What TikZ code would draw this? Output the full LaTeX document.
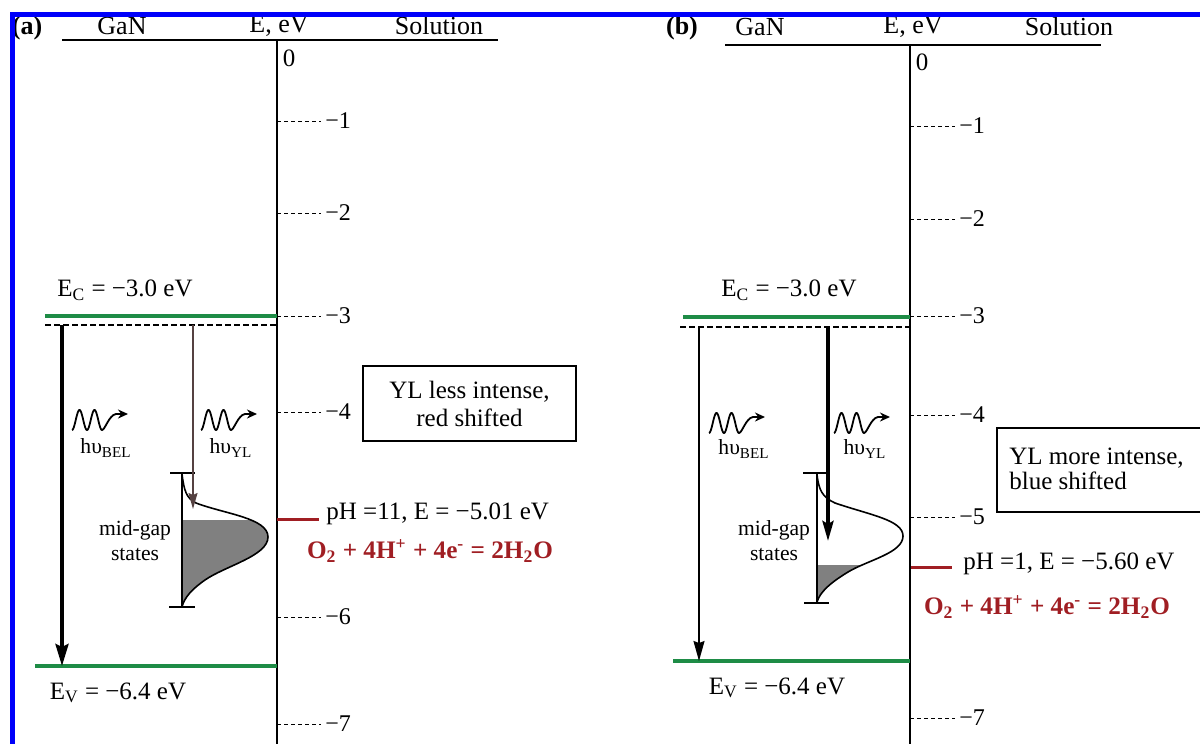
\documentclass[tikz,border=0pt]{standalone}
\usepackage{fontspec}
\setmainfont{Liberation Serif}
\usetikzlibrary{arrows.meta}
\definecolor{bandgreen}{RGB}{30,140,70}
\definecolor{redox}{RGB}{160,30,35}
\definecolor{frameblue}{RGB}{0,0,250}
\definecolor{ylbrown}{RGB}{85,65,65}
\definecolor{fillgray}{RGB}{128,128,128}
\newcommand\gaussA{(182,474) .. controls (184,490) and (186,498) .. (196,503) .. controls (225,514) and (268,518) .. (268,537) .. controls (268,556) and (225,566) .. (205,580) .. controls (192,589) and (184,598) .. (182,607)}
\newcommand\gaussB{(817,475) .. controls (819,490) and (822,497) .. (835,503) .. controls (870,515) and (903,520) .. (903,536) .. controls (903,553) and (868,560) .. (848,572) .. controls (830,583) and (820,592) .. (817,602)}
\begin{document}
\begin{tikzpicture}[x=0.5pt,y=-0.5pt,
  txt/.style={inner sep=0pt,font=\fontsize{12.5}{14.5}\selectfont},
  hdr/.style={inner sep=0pt,font=\fontsize{13}{15}\selectfont},
  small/.style={inner sep=0pt,font=\fontsize{10.8}{12.5}\selectfont,align=center},
  panel/.style={inner sep=0pt,font=\fontsize{13}{15}\selectfont\bfseries},
  tickl/.style={anchor=west,inner sep=2pt,font=\fontsize{12}{14}\selectfont},
  tickdash/.style={dash pattern=on 2pt off 1.5pt,line width=0.5pt},
  axisline/.style={line width=0.8pt},
  band/.style={bandgreen,line width=1.6pt},
  cdash/.style={dash pattern=on 3pt off 1.5pt,line width=0.6pt},
  thickarr/.style={line width=1.8pt,-{Stealth[length=11pt,width=6.5pt,inset=1.5pt]}},
  thinarr/.style={line width=0.7pt,-{Stealth[length=8pt,width=4.5pt,inset=1pt]}},
  redline/.style={redox,line width=1.5pt},
  eqn/.style={inner sep=0pt,text=redox,font=\fontsize{12.6}{14}\selectfont\bfseries},
  capline/.style={line width=0.7pt},
  curve/.style={line width=0.8pt},
  photon/.pic={\draw[line width=0.9pt,-{Stealth[length=5pt,width=4.5pt]}]
     plot[domain=0:30,samples=61,smooth] (\x,{-10*(1-cos(\x*360/15))})
     .. controls (33,0) and (37,-15) .. (44,-16) -- (56,-16);}
]
\useasboundingbox (0,0) rectangle (1200,744);

% ================= panel (a) =================
\node[panel] (pa) at (27,28) {(a)};
\node[hdr] (gana) at (122,26) {GaN};
\node[hdr] (eeva) at (279,26) {E, eV};
\node[hdr] (sola) at (439,26) {Solution};
\coordinate (atl) at (62,40);
\coordinate (atr) at (498,40);
\coordinate (aax) at (277,40);
\coordinate (aaxb) at (277,744);
\draw[axisline] (atl) -- (atr);
\draw[axisline] (aax) -- (aaxb);
\node[txt] (a0) at (289,58) {0};
\foreach \v/\y in {1/121,2/213,3/316,4/412,6/617,7/724}{
  \coordinate (ac\v) at (277,\y);
  \node[tickl] (at\v) at (321,\y) {−\v};
  \draw[tickdash] (ac\v) -- (at\v.west);
}
% bands
\coordinate (aecl) at (45,316); \coordinate (aecr) at (277,316);
\coordinate (adl) at (45,325); \coordinate (adr) at (277,325);
\coordinate (aevl) at (35,666); \coordinate (aevr) at (277,666);
\draw[band] (aecl) -- (aecr);
\draw[cdash] (adl) -- (adr);
\draw[band] (aevl) -- (aevr);
\node[txt] (aec) at (125,290) {E\textsubscript{C} = −3.0 eV};
\node[txt] (aev) at (118,693) {E\textsubscript{V} = −6.4 eV};
% transitions
\coordinate (abs) at (62,325); \coordinate (abe) at (62,666);
\draw[thickarr] (abs) -- (abe);
\coordinate (ays) at (193,325); \coordinate (aye) at (193,509);
% mid-gap states
\begin{scope}
  \clip (180,520) rectangle (280,612);
  \fill[fillgray] \gaussA -- cycle;
\end{scope}
\draw[curve] \gaussA;
\coordinate (amt) at (182,473); \coordinate (amb) at (182,607);
\draw[capline] (amt) -- (amb);
\draw[capline] (170,473) -- (195,473);
\draw[capline] (169,607) -- (195,607);
\draw[thinarr,ylbrown] (ays) -- (aye);
\node[small] (amid) at (135,541) {mid-gap\\states};
% photons
\pic at (72,430) {photon};
\pic at (201,430) {photon};
\node[small] (ahb) at (106,448) {hυ\textsubscript{BEL}};
\node[small] (ahy) at (231,448) {hυ\textsubscript{YL}};
% solution side
\coordinate (ars) at (277,519); \coordinate (are) at (319,519);
\draw[redline] (ars) -- (are);
\node[txt,anchor=west] (aph) at (326,514) {pH =11, E = −5.01 eV};
\node[eqn] (aeq) at (430,551) {O\textsubscript{2} + 4H\textsuperscript{+} + 4e\textsuperscript{-} = 2H\textsubscript{2}O};
\node[draw,line width=0.7pt,minimum width=106.5pt,minimum height=37.5pt,align=center,
  inner sep=0pt,font=\fontsize{12.5}{14}\selectfont] (abox) at (469.5,403.5) {YL less intense,\\red shifted};

% ================= panel (b) =================
\node[panel] (pb) at (682,28) {(b)};
\node[hdr] (ganb) at (760,27) {GaN};
\node[hdr] (eevb) at (913,27) {E, eV};
\node[hdr] (solb) at (1069,27) {Solution};
\coordinate (btl) at (725,45);
\coordinate (btr) at (1101,45);
\coordinate (bax) at (910,45);
\coordinate (baxb) at (910,744);
\draw[axisline] (btl) -- (btr);
\draw[axisline] (bax) -- (baxb);
\node[txt] (b0) at (922,62) {0};
\foreach \v/\y in {1/126,2/219,3/316,4/415,5/517,7/718}{
  \coordinate (bc\v) at (910,\y);
  \node[tickl] (bt\v) at (955,\y) {−\v};
  \draw[tickdash] (bc\v) -- (bt\v.west);
}
\coordinate (becl) at (683,317); \coordinate (becr) at (910,317);
\coordinate (bdl) at (680,327); \coordinate (bdr) at (910,327);
\coordinate (bevl) at (673,661); \coordinate (bevr) at (910,661);
\draw[band] (becl) -- (becr);
\draw[cdash] (bdl) -- (bdr);
\draw[band] (bevl) -- (bevr);
\node[txt] (bec) at (789,290) {E\textsubscript{C} = −3.0 eV};
\node[txt] (bev) at (777,688) {E\textsubscript{V} = −6.4 eV};
\coordinate (bbs) at (699,327); \coordinate (bbe) at (699,661);
\draw[line width=0.8pt,-{Stealth[length=10pt,width=5.5pt,inset=1pt]}] (bbs) -- (bbe);
\begin{scope}
  \clip (815,565) rectangle (910,608);
  \fill[fillgray] \gaussB -- cycle;
\end{scope}
\draw[curve] \gaussB;
\coordinate (bmt) at (817,473); \coordinate (bmb) at (817,603);
\draw[capline] (bmt) -- (bmb);
\draw[capline] (803,473) -- (828,473);
\draw[capline] (804,603) -- (829,603);
\coordinate (bys) at (828,327); \coordinate (bye) at (828,541);
\draw[line width=1.8pt,-{Stealth[length=10pt,width=5.5pt,inset=1.5pt]}] (bys) -- (bye);
\node[small] (bmid) at (774,541) {mid-gap\\states};
\pic at (709,433) {photon};
\pic at (834,433) {photon};
\node[small] (bhb) at (744,449) {hυ\textsubscript{BEL}};
\node[small] (bhy) at (865,449) {hυ\textsubscript{YL}};
\coordinate (brs) at (911,567); \coordinate (bre) at (952,567);
\draw[redline] (brs) -- (bre);
\node[txt,anchor=west] (bph) at (963,564) {pH =1, E = −5.60 eV};
\node[eqn] (beq) at (1047,607) {O\textsubscript{2} + 4H\textsuperscript{+} + 4e\textsuperscript{-} = 2H\textsubscript{2}O};
\node[txt,anchor=west,align=left,font=\fontsize{12.5}{12.5}\selectfont] (bboxt) at (1009,469) {YL more intense,\\blue shifted};
\draw[line width=0.7pt] (1200,428) -| (997,512) -- (1200,512);

% frame
\draw[frameblue,line width=2.5pt] (12.5,744) -- (12.5,14.5) -- (1200,14.5);
\end{tikzpicture}
\end{document}
